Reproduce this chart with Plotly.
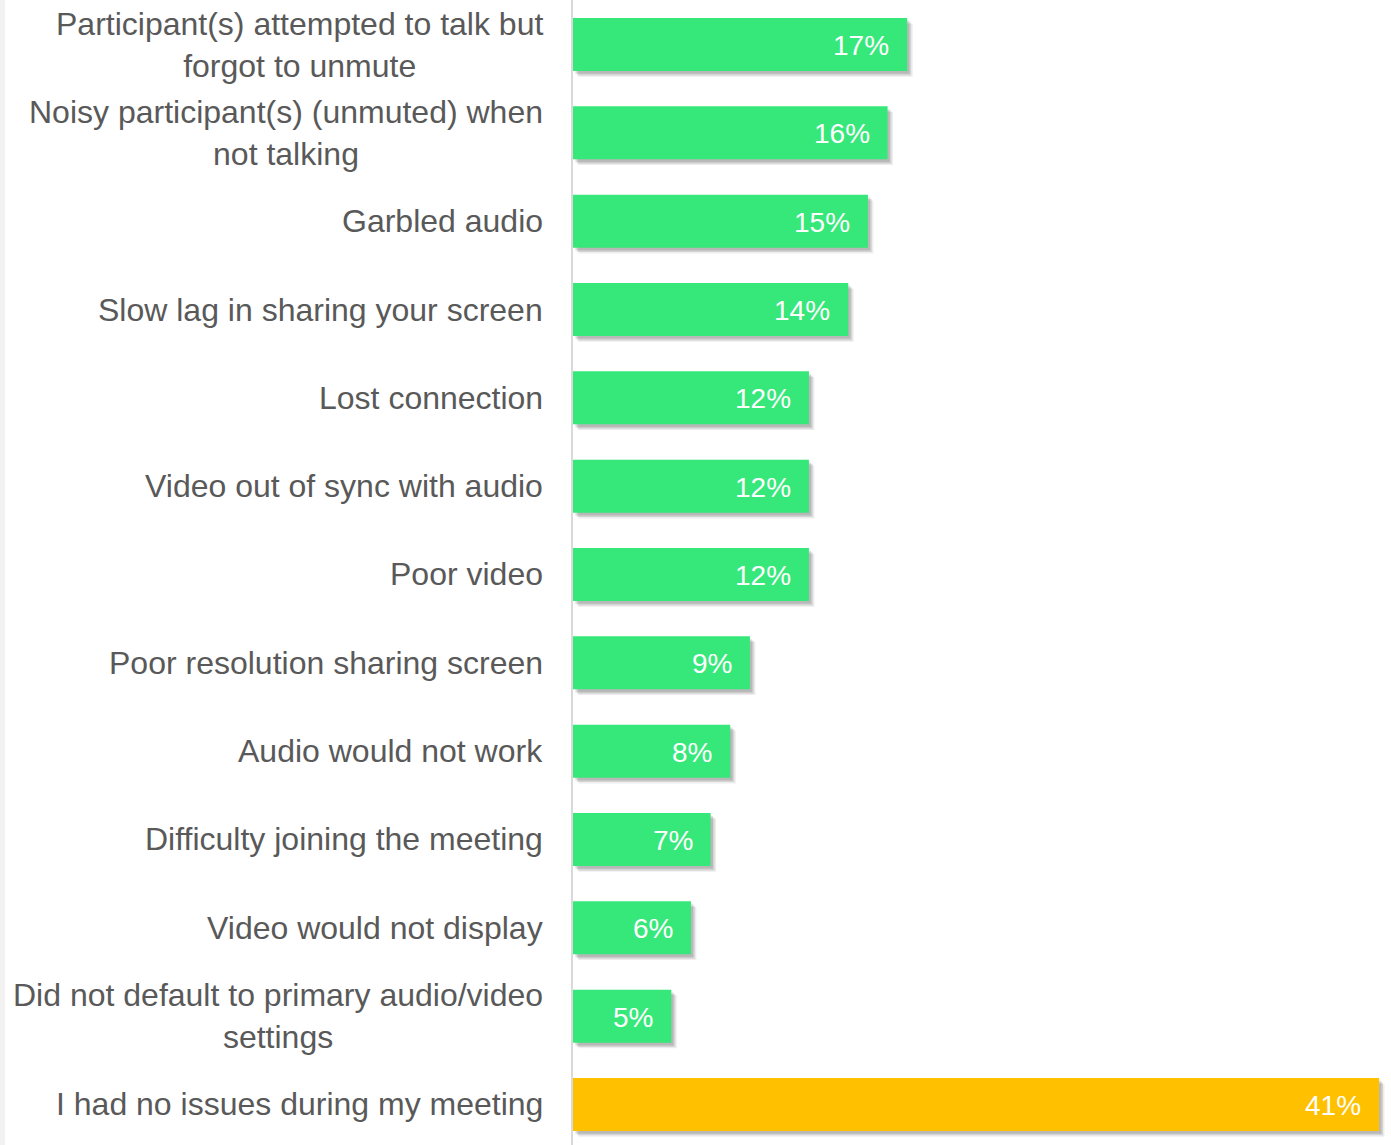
import plotly.graph_objects as go

# Survey responses: issues experienced during online meetings
categories = [
    "Participant(s) attempted to talk but<br>forgot to unmute",
    "Noisy participant(s) (unmuted) when<br>not talking",
    "Garbled audio",
    "Slow lag in sharing your screen",
    "Lost connection",
    "Video out of sync with audio",
    "Poor video",
    "Poor resolution sharing screen",
    "Audio would not work",
    "Difficulty joining the meeting",
    "Video would not display",
    "Did not default to primary audio/video<br>settings",
    "I had no issues during my meeting",
]
values = [17, 16, 15, 14, 12, 12, 12, 9, 8, 7, 6, 5, 41]

GREEN = "#36E87A"
YELLOW = "#FFC000"
TEXT_GREY = "#595959"
FONT = "Liberation Sans, Arial, sans-serif"

bar_colors = [YELLOW if c.startswith("I had no issues") else GREEN for c in categories]
ypos = list(range(len(categories)))

fig = go.Figure()

# soft drop shadow built from a few translucent layers behind each bar
shadow_layers = [
    (0.28, 0.065, "rgba(0,0,0,0.07)"),
    (0.20, 0.050, "rgba(0,0,0,0.10)"),
    (0.12, 0.032, "rgba(0,0,0,0.13)"),
]
for dx, dy, col in shadow_layers:
    fig.add_trace(go.Bar(
        x=values, y=ypos, base=dx, orientation="h",
        width=0.6, offset=-0.3 + dy,
        marker=dict(color=col, line=dict(width=0)),
        hoverinfo="skip", showlegend=False,
    ))

fig.add_trace(go.Bar(
    x=values, y=ypos, orientation="h",
    width=0.6, offset=-0.3,
    marker=dict(color=bar_colors, line=dict(width=0)),
    hovertemplate="%{x}%<extra></extra>", showlegend=False,
))

annotations = []
# value labels inside the bar ends
for v, y in zip(values, ypos):
    annotations.append(dict(
        x=v, y=y, xref="x", yref="y", text=f"{v}%",
        xanchor="right", yanchor="middle", xshift=-16, yshift=-1,
        showarrow=False, font=dict(family=FONT, size=28, color="white"),
    ))
# category labels, centred line by line
for c, y in zip(categories, ypos):
    annotations.append(dict(
        x=0, y=y, xref="x", yref="y", text=c,
        xanchor="right", yanchor="middle", xshift=-28, align="center",
        showarrow=False, font=dict(family=FONT, size=32, color=TEXT_GREY),
    ))

left_margin = 573
right_margin = 6
plot_w = 1391 - left_margin - right_margin

fig.update_layout(
    width=1391, height=1145,
    margin=dict(l=left_margin, r=right_margin, t=0, b=0),
    paper_bgcolor="white", plot_bgcolor="white",
    barmode="overlay",
    annotations=annotations,
    shapes=[dict(
        type="rect", xref="paper", yref="paper",
        x0=-left_margin / plot_w, x1=(5 - left_margin) / plot_w, y0=0, y1=1,
        fillcolor="#f2f2f2", line=dict(width=0), layer="below",
    )],
    xaxis=dict(range=[0, 41.3], visible=False),
    yaxis=dict(
        range=[12.459, -0.504], showticklabels=False, showgrid=False,
        zeroline=False, showline=True, linecolor="#d9d9d9", linewidth=2,
        ticks="",
    ),
)

fig.write_html("out.html")
